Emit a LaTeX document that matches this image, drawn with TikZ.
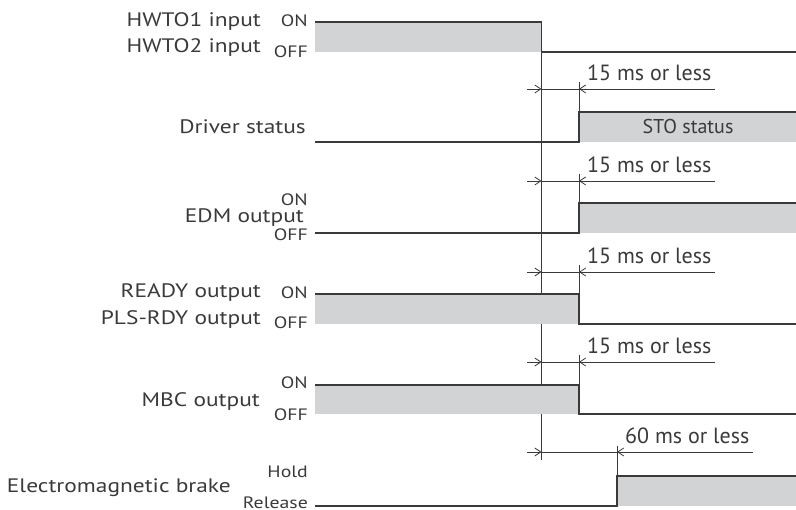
\documentclass[tikz,border=0pt]{standalone}
\usepackage{fontspec}
\setmainfont[FakeStretch=1.2]{PT Sans}
\newfontfamily\tmfont{PT Sans}
\usetikzlibrary{arrows.meta}
\definecolor{ln}{HTML}{3A3A3A}
\definecolor{fillg}{HTML}{D1D3D4}
\tikzset{
  sig/.style={draw=ln, line width=1.1pt},
  lvl/.style={fill=fillg, draw=none},
  dim/.style={draw=ln, line width=0.8pt},
  tip/.style={-{Straight Barb[length=6pt,width=8pt,line width=0.8pt]}},
  lab/.style={anchor=east, inner sep=0pt, font=\fontsize{19.5}{19.5}\selectfont, text=ln},
  st/.style={anchor=east, inner sep=0pt, font=\fontsize{16.5}{16.5}\selectfont, text=ln},
  tm/.style={anchor=base west, inner sep=0pt, font=\tmfont\fontsize{22}{22}\selectfont, text=ln},
}
\begin{document}
\begin{tikzpicture}[x=1pt,y=-1pt]
\useasboundingbox (0,0) rectangle (796,510);
% coordinates
\coordinate (t0) at (541.5,22);
\coordinate (t0b) at (541.5,460);
% ---------- HWTO ----------
\fill[lvl] (315,22) rectangle (541.5,52);
\draw[sig] (315,22) -- (541.5,22) -- (541.5,52) -- (796,52);
\node[lab] (hw1) at (261,22) {HWTO1 input};
\node[lab] (hw2) at (261,48) {HWTO2 input};
\node[st] (hwon) at (308,21) {ON};
\node[st] (hwoff) at (308,52) {OFF};
% reference vertical line
\draw[dim] (t0) -- (t0b);
% ---------- Driver status ----------
\fill[lvl] (579,112) rectangle (796,142);
\draw[sig] (315,142) -- (579,142) -- (579,112) -- (796,112);
\draw[dim] (579,82) -- (579,112);
\node[lab] (drv) at (306,127) {Driver status};
\node[anchor=center, inner sep=0pt, font=\tmfont\fontsize{20}{20}\selectfont, text=ln] (sto) at (688,127) {STO status};
\coordinate (a1l) at (527,89); \coordinate (a1m) at (541.5,89);
\coordinate (a1r) at (579,89); \coordinate (a1e) at (715,89);
\draw[dim,tip] (a1l) -- (a1m);
\draw[dim] (a1m) -- (a1r);
\draw[dim,tip] (a1e) -- (a1r);
\node[tm] (d1) at (587,81) {15 ms or less};
% ---------- EDM ----------
\fill[lvl] (579,203) rectangle (796,233);
\draw[sig] (315,233) -- (579,233) -- (579,203) -- (796,203);
\draw[dim] (579,174) -- (579,203);
\node[lab] (edm) at (304,218) {EDM output};
\node[st] (edmon) at (308,200) {ON};
\node[st] (edmoff) at (308,235) {OFF};
\coordinate (a2l) at (527,181); \coordinate (a2m) at (541.5,181);
\coordinate (a2r) at (579,181); \coordinate (a2e) at (715,181);
\draw[dim,tip] (a2l) -- (a2m);
\draw[dim] (a2m) -- (a2r);
\draw[dim,tip] (a2e) -- (a2r);
\node[tm] (d2) at (587,173) {15 ms or less};
% ---------- READY ----------
\fill[lvl] (315,294) rectangle (579,324);
\draw[sig] (315,294) -- (579,294) -- (579,324) -- (796,324);
\draw[dim] (579,265) -- (579,294);
\node[lab] (rdy) at (261,293) {READY output};
\node[lab] (pls) at (261,320) {PLS-RDY output};
\node[st] (rdyon) at (308,293) {ON};
\node[st] (rdyoff) at (308,323) {OFF};
\coordinate (a3l) at (527,272); \coordinate (a3m) at (541.5,272);
\coordinate (a3r) at (579,272); \coordinate (a3e) at (715,272);
\draw[dim,tip] (a3l) -- (a3m);
\draw[dim] (a3m) -- (a3r);
\draw[dim,tip] (a3e) -- (a3r);
\node[tm] (d3) at (587,264) {15 ms or less};
% ---------- MBC ----------
\fill[lvl] (315,385) rectangle (579,414);
\draw[sig] (315,385) -- (579,385) -- (579,414) -- (796,414);
\draw[dim] (579,355) -- (579,385);
\node[lab] (mbc) at (260,402) {MBC output};
\node[st] (mbcon) at (308,383) {ON};
\node[st] (mbcoff) at (308,415) {OFF};
\coordinate (a4l) at (527,362); \coordinate (a4m) at (541.5,362);
\coordinate (a4r) at (579,362); \coordinate (a4e) at (715,362);
\draw[dim,tip] (a4l) -- (a4m);
\draw[dim] (a4m) -- (a4r);
\draw[dim,tip] (a4e) -- (a4r);
\node[tm] (d4) at (587,354) {15 ms or less};
% ---------- Brake ----------
\fill[lvl] (617,476) rectangle (796,506);
\draw[sig] (315,506) -- (617,506) -- (617,476) -- (796,476);
\draw[dim] (617,446) -- (617,476);
\node[lab] (brk) at (231,488) {Electromagnetic brake};
\node[st] (hold) at (308,472) {Hold};
\node[st] (rel) at (308,503) {Release};
\coordinate (a5l) at (527,452); \coordinate (a5m) at (541.5,452);
\coordinate (a5r) at (617,452); \coordinate (a5e) at (753,452);
\draw[dim,tip] (a5l) -- (a5m);
\draw[dim] (a5m) -- (a5r);
\draw[dim,tip] (a5e) -- (a5r);
\node[tm] (d5) at (625,444) {60 ms or less};
\end{tikzpicture}
\end{document}
